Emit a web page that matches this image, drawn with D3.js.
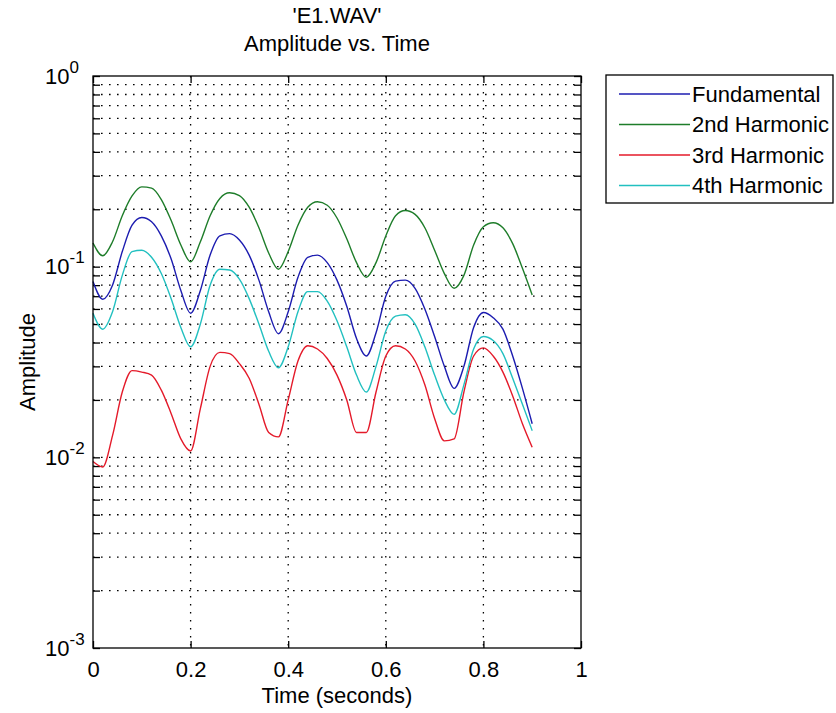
<!DOCTYPE html>
<html>
<head>
<meta charset="utf-8">
<script src="https://cdn.jsdelivr.net/npm/d3@7"></script>
<style>
  body { margin: 0; background: #fff; }
  text { font-family: "Liberation Sans", Arial, sans-serif; fill: #000; }
</style>
</head>
<body>
<div id="canvas"></div>
<script>
  // Time samples (seconds)
  var times = [0, 0.02, 0.04, 0.06, 0.08, 0.10, 0.12, 0.14, 0.16, 0.18,
               0.20, 0.22, 0.24, 0.26, 0.28, 0.30, 0.32, 0.34, 0.36, 0.38,
               0.40, 0.42, 0.44, 0.46, 0.48, 0.50, 0.52, 0.54, 0.56, 0.58,
               0.60, 0.62, 0.64, 0.66, 0.68, 0.70, 0.72, 0.74, 0.76, 0.78,
               0.80, 0.82, 0.84, 0.86, 0.88, 0.90];

  var fundamental = [0.0835, 0.0675, 0.080, 0.120, 0.165, 0.181, 0.172, 0.145, 0.110, 0.075,
                     0.057, 0.075, 0.115, 0.145, 0.149, 0.138, 0.115, 0.085, 0.058, 0.0445,
                     0.058, 0.088, 0.112, 0.115, 0.105, 0.085, 0.062, 0.042, 0.034, 0.045,
                     0.070, 0.084, 0.085, 0.077, 0.060, 0.043, 0.030, 0.023, 0.030, 0.048,
                     0.0575, 0.054, 0.047, 0.034, 0.023, 0.015];

  var harmonic2 = [0.133, 0.114, 0.135, 0.185, 0.235, 0.262, 0.258, 0.225, 0.175, 0.130,
                   0.106, 0.135, 0.185, 0.228, 0.244, 0.236, 0.205, 0.160, 0.118, 0.097,
                   0.120, 0.165, 0.205, 0.219, 0.210, 0.180, 0.140, 0.105, 0.088, 0.105,
                   0.145, 0.185, 0.197, 0.188, 0.160, 0.122, 0.092, 0.077, 0.090, 0.130,
                   0.162, 0.170, 0.160, 0.132, 0.098, 0.071];

  var harmonic3 = [0.0095, 0.0089, 0.013, 0.022, 0.0285, 0.028, 0.027, 0.0225, 0.017, 0.0125,
                   0.0108, 0.018, 0.030, 0.0355, 0.035, 0.031, 0.026, 0.019, 0.0135, 0.0128,
                   0.020, 0.032, 0.0385, 0.037, 0.033, 0.027, 0.020, 0.0135, 0.0135, 0.022,
                   0.034, 0.0385, 0.037, 0.032, 0.024, 0.016, 0.0122, 0.0125, 0.022, 0.034,
                   0.0375, 0.034, 0.028, 0.021, 0.015, 0.0113];

  var harmonic4 = [0.057, 0.047, 0.058, 0.090, 0.120, 0.122, 0.112, 0.092, 0.068, 0.048,
                   0.038, 0.050, 0.080, 0.097, 0.096, 0.086, 0.068, 0.050, 0.036, 0.0295,
                   0.038, 0.058, 0.074, 0.074, 0.066, 0.052, 0.038, 0.027, 0.022, 0.030,
                   0.046, 0.055, 0.056, 0.050, 0.038, 0.027, 0.020, 0.0168, 0.024, 0.037,
                   0.043, 0.041, 0.035, 0.026, 0.019, 0.0138];

  var seriesNames = ["Fundamental", "2nd Harmonic", "3rd Harmonic", "4th Harmonic"];
  var seriesValues = [fundamental, harmonic2, harmonic3, harmonic4];
  var seriesColors = ["#1c1cb0", "#1e7d2a", "#e41a2a", "#22c0c0"];

  var xTicks = [0, 0.2, 0.4, 0.6, 0.8, 1];
  var xTickLabels = ["0", "0.2", "0.4", "0.6", "0.8", "1"];
  var yExponents = [0, -1, -2, -3];

  var width = 836, height = 713;
  var margin = {top: 76, right: 255, bottom: 65, left: 93};
  var fontSize = 22;

  var svg = d3.select("#canvas").append("svg")
      .attr("width", width)
      .attr("height", height);

  var x = d3.scaleLinear().domain([0, 1]).range([margin.left, width - margin.right]);
  var y = d3.scaleLog().domain([1e-3, 1]).range([height - margin.bottom, margin.top]);

  var yAll = y.ticks();

  // Grid (dotted): major x, major+minor y
  var grid = svg.append("g")
      .attr("stroke", "#000")
      .attr("stroke-width", 1.3)
      .attr("stroke-dasharray", "1.6,6.4");
  grid.selectAll(".gy")
    .data(yAll.filter(function(d){ return d > 1.0001e-3 && d < 0.9999; }))
    .enter().append("line")
      .attr("x1", x(0)).attr("x2", x(1))
      .attr("y1", function(d){ return y(d); })
      .attr("y2", function(d){ return y(d); });
  grid.selectAll(".gx")
    .data(xTicks.filter(function(d){ return d > 0 && d < 1; }))
    .enter().append("line")
      .attr("y1", y(1)).attr("y2", y(1e-3))
      .attr("x1", function(d){ return x(d); })
      .attr("x2", function(d){ return x(d); });

  // Ticks on all four sides, pointing inward
  function styleAxis(g) {
    g.select(".domain").remove();
    g.selectAll("line").attr("stroke", "#000").attr("stroke-width", 1.3);
    g.attr("font-family", null).attr("font-size", null);
  }
  svg.append("g")
      .attr("transform", "translate(" + x(0) + ",0)")
      .call(d3.axisLeft(y).tickValues(yAll).tickSize(-7).tickFormat(""))
      .call(styleAxis);
  svg.append("g")
      .attr("transform", "translate(" + x(1) + ",0)")
      .call(d3.axisRight(y).tickValues(yAll).tickSize(-7).tickFormat(""))
      .call(styleAxis);
  svg.append("g")
      .attr("transform", "translate(0," + y(1) + ")")
      .call(d3.axisTop(x).tickValues(xTicks).tickSize(-7).tickFormat(""))
      .call(styleAxis);
  var xAxis = svg.append("g")
      .attr("transform", "translate(0," + y(1e-3) + ")")
      .call(d3.axisBottom(x).tickValues(xTicks).tickSize(-7).tickPadding(13)
              .tickFormat(function(d, i){ return xTickLabels[i]; }))
      .call(styleAxis);
  xAxis.selectAll("text").style("font-size", fontSize + "px").attr("fill", "#000");

  // Y tick labels with superscript exponents
  var yLab = svg.append("g").selectAll("text")
    .data(yExponents)
    .enter().append("text")
      .attr("x", 45)
      .attr("y", function(d){ return y(Math.pow(10, d)) + 7.5; })
      .style("font-size", fontSize + "px");
  yLab.append("tspan").text("10");
  yLab.append("tspan")
      .attr("dy", -11)
      .style("font-size", "17px")
      .text(function(d){ return d; });

  // Series
  var line = d3.line()
      .x(function(d){ return x(d[0]); })
      .y(function(d){ return y(d[1]); })
      .curve(d3.curveMonotoneX);
  seriesValues.forEach(function(vals, i) {
    svg.append("path")
      .datum(times.map(function(t, j){ return [t, vals[j]]; }))
      .attr("fill", "none")
      .attr("stroke", seriesColors[i])
      .attr("stroke-width", 1.4)
      .attr("d", line);
  });

  // Frame
  svg.append("rect")
      .attr("x", x(0)).attr("y", y(1))
      .attr("width", x(1) - x(0)).attr("height", y(1e-3) - y(1))
      .attr("fill", "none").attr("stroke", "#000").attr("stroke-width", 1.3);

  // Titles
  var cx = (x(0) + x(1)) / 2;
  svg.append("text").attr("x", cx).attr("y", 23)
      .attr("text-anchor", "middle").style("font-size", fontSize + "px")
      .text("'E1.WAV'");
  svg.append("text").attr("x", cx).attr("y", 51)
      .attr("text-anchor", "middle").style("font-size", fontSize + "px")
      .text("Amplitude vs. Time");
  svg.append("text").attr("x", cx).attr("y", 703)
      .attr("text-anchor", "middle").style("font-size", fontSize + "px")
      .text("Time (seconds)");
  svg.append("text")
      .attr("transform", "translate(35," + ((y(1) + y(1e-3)) / 2) + ") rotate(-90)")
      .attr("text-anchor", "middle").style("font-size", fontSize + "px")
      .text("Amplitude");

  // Legend
  var legend = svg.append("g");
  legend.append("rect")
      .attr("x", 606).attr("y", 75).attr("width", 227).attr("height", 128)
      .attr("fill", "#fff").attr("stroke", "#000").attr("stroke-width", 1.3);
  var item = legend.selectAll(".item")
    .data(seriesNames)
    .enter().append("g")
      .attr("transform", function(d, i){ return "translate(0," + (94 + i * 30.5) + ")"; });
  item.append("line")
      .attr("x1", 619).attr("x2", 690)
      .attr("stroke", function(d, i){ return seriesColors[i]; })
      .attr("stroke-width", 1.6);
  item.append("text")
      .attr("x", 692).attr("y", 7.5)
      .style("font-size", fontSize + "px")
      .text(function(d){ return d; });
</script>
</body>
</html>
